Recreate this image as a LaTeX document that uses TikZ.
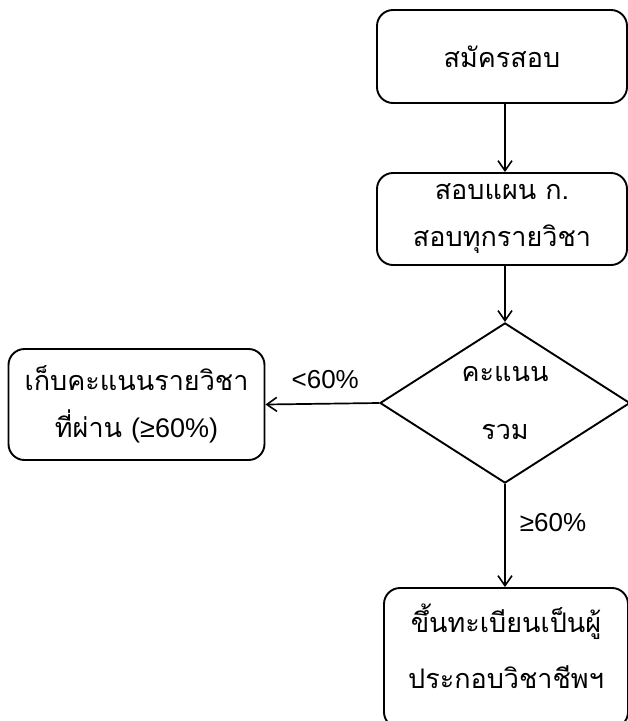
\documentclass[tikz,border=0pt]{standalone}
\usepackage{fontspec}
\setmainfont{Liberation Sans}
\newfontfamily\thai[Script=Thai]{Loma}
\usetikzlibrary{shapes.geometric,arrows.meta}
\begin{document}
\begin{tikzpicture}[x=1pt,y=-1pt,
  box/.style={draw,line width=1.9pt,rounded corners=16pt,align=center,
    font=\thai\fontsize{27}{47}\selectfont,inner sep=0pt},
  dec/.style={draw,diamond,line width=1.9pt,align=center,inner sep=0pt,
    minimum width=250pt,minimum height=155pt,
    font=\thai\fontsize{27}{58}\selectfont},
  arr/.style={line width=1.7pt,-{Straight Barb[length=10pt,width=14pt,line width=1.6pt]}},
  lbl/.style={font=\fontsize{26}{30}\selectfont,inner sep=0pt}]
\useasboundingbox (0,0) rectangle (628,721);
\node[box,minimum width=250pt,minimum height=93pt] (apply) at (502,56.5) {สมัครสอบ};
\node[box,minimum width=250pt,minimum height=92pt] (exam) at (502,219) {สอบแผน ก.\\สอบทุกรายวิชา};
\node[dec] (score) at (505,403) {คะแนน\\รวม};
\node[box,minimum width=256pt,minimum height=111pt] (keep) at (136.5,404.5) {เก็บคะแนนรายวิชา\\ที่ผ่าน {\rmfamily(≥60\%)}};
\node[box,minimum width=244pt,minimum height=140pt,font=\thai\fontsize{27}{56}\selectfont] (reg) at (506,658) {ขึ้นทะเบียนเป็นผู้\\ประกอบวิชาชีพฯ\\[-32pt]\mbox{}};
\draw[arr] (apply.south -| score.north) -- (exam.north -| score.north);
\draw[arr] (exam.south -| score.north) -- (score.north);
\draw[arr] (score.west) -- (keep.east) node[lbl,midway,above=14pt,xshift=3pt] {<60\%};
\draw[arr] (score.south) -- (reg.north -| score.south) node[lbl,midway,right=14pt,yshift=13pt] {≥60\%};
\end{tikzpicture}
\end{document}
